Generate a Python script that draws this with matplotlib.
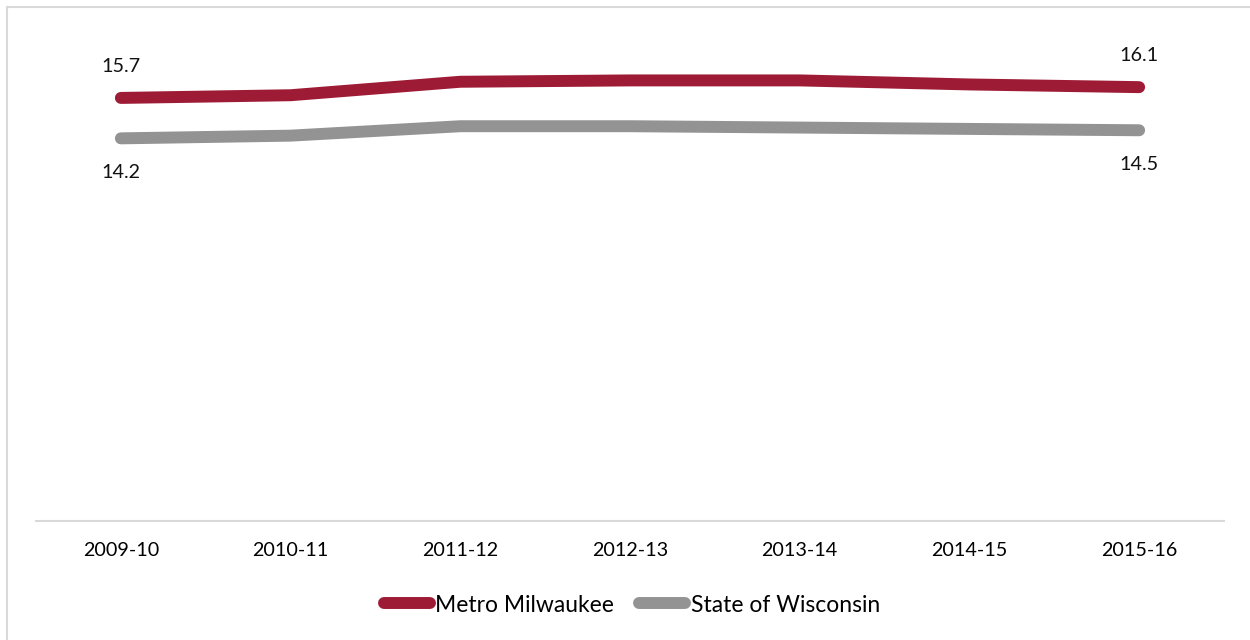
import matplotlib
matplotlib.use("Agg")
import matplotlib.pyplot as plt
from matplotlib.patches import Rectangle

categories = ["2009-10", "2010-11", "2011-12", "2012-13", "2013-14", "2014-15", "2015-16"]
metro = [15.7, 15.8, 16.3, 16.35, 16.35, 16.2, 16.1]
state = [14.2, 14.3, 14.65, 14.65, 14.6, 14.55, 14.5]
series_names = ["Metro Milwaukee", "State of Wisconsin"]
colors = ["#9E1B36", "#939393"]

plt.rcParams['font.family'] = ['Lato', 'DejaVu Sans']

W, H = 1250, 640
fs = 14.2
fig = plt.figure(figsize=(W / 100, H / 100), dpi=100)
fig.patches.append(Rectangle((7 / W, -0.1), 1.2, 1 - 7 / H + 0.1, transform=fig.transFigure,
                             fill=False, edgecolor="#d9d9d9", linewidth=1.5))

ax = fig.add_axes([36 / W, (H - 521) / H, 1188 / W, 512 / H])
x = list(range(len(categories)))
lw = 8.6
l1, = ax.plot(x, metro, color=colors[0], linewidth=lw, solid_capstyle="round", solid_joinstyle="round", label=series_names[0])
l2, = ax.plot(x, state, color=colors[1], linewidth=lw, solid_capstyle="round", solid_joinstyle="round", label=series_names[1])

ax.set_xlim(-0.5, len(categories) - 0.5)
ax.set_ylim(0, 19)
ax.set_xticks(x)
ax.set_xticklabels(categories, fontsize=fs)
ax.tick_params(axis="x", length=0, pad=15)
ax.set_yticks([])
for s in ["top", "left", "right"]:
    ax.spines[s].set_visible(False)
ax.spines["bottom"].set_color("#d9d9d9")
ax.spines["bottom"].set_linewidth(1.5)

for i in [0, len(categories) - 1]:
    ax.annotate(f"{metro[i]:.1f}", (x[i], metro[i]), xytext=(0, 22.5), textcoords="offset points",
                ha="center", va="center", fontsize=fs, color="#111111")
    ax.annotate(f"{state[i]:.1f}", (x[i], state[i]), xytext=(0, -24.5), textcoords="offset points",
                ha="center", va="center", fontsize=fs, color="#111111")

fig.legend(handles=[l1, l2], loc="center", bbox_to_anchor=(0.5056, (H - 605) / H), ncol=2,
           frameon=False, fontsize=16.5, handlelength=2.0, handletextpad=0.25, columnspacing=1.1)

fig.savefig("out.png", dpi=100)
